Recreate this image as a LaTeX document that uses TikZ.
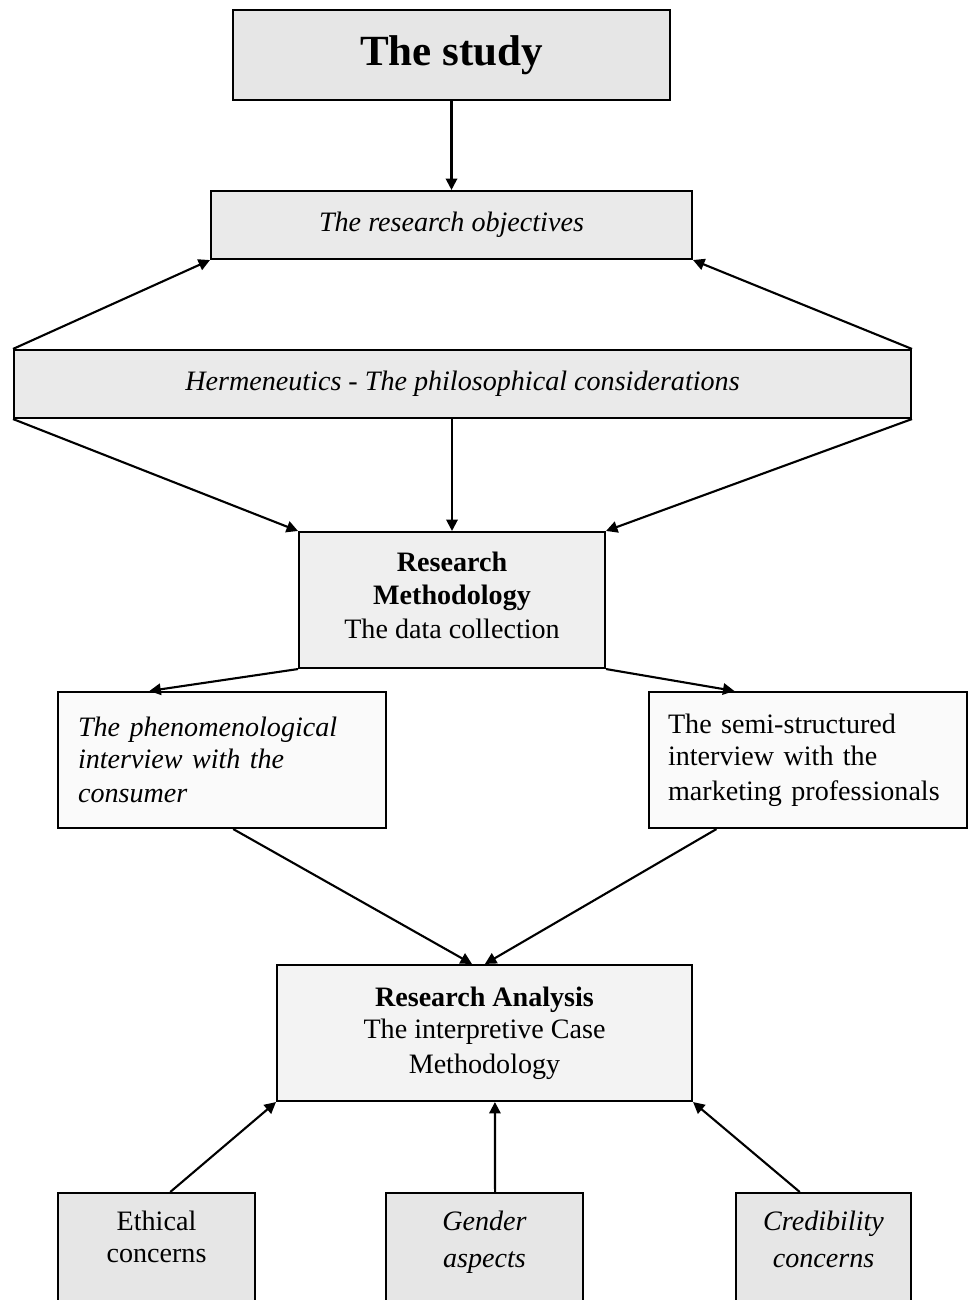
\documentclass[tikz,border=0pt]{standalone}
\usepackage{fontspec}
\setmainfont{Liberation Serif}
\usetikzlibrary{arrows.meta,calc}
\begin{document}
\begin{tikzpicture}[x=0.02cm,y=-0.02cm,
  box/.style={draw,line width=1.2pt,rectangle,inner sep=0pt,align=center,
    font=\fontsize{16}{19.5}\selectfont},
  conn/.style={line width=1.2pt,-{Triangle[length=6.5pt,width=6.5pt]}}]
\clip (0,0) rectangle (968,1300);
\fill[white] (0,0) rectangle (968,1300);
\definecolor{gA}{HTML}{E6E6E6}
\definecolor{gB}{HTML}{EAEAEA}
\definecolor{gC}{HTML}{EFEFEF}
\definecolor{gD}{HTML}{FAFAFA}
\definecolor{gE}{HTML}{F3F3F3}
\node[box,fill=gA,minimum width=8.74cm,minimum height=1.8cm,font=\fontsize{24.5}{28}\selectfont\bfseries] (study) at (451.5,55) {The study};
\node[box,fill=gB,minimum width=9.62cm,minimum height=1.36cm,font=\fontsize{16}{19.5}\selectfont\itshape] (obj) at (451.5,225) {The research objectives};
\node[box,fill=gB,minimum width=17.94cm,minimum height=1.36cm,font=\fontsize{16}{19.5}\selectfont\itshape] (herm) at (462.5,384) {Hermeneutics - The philosophical considerations};
\node[box,fill=gC,minimum width=6.12cm,minimum height=2.72cm] (meth) at (452,600) {\textbf{Research}\\[-1pt]\textbf{Methodology}\\The data collection\\[-14pt]\mbox{}};
\node[box,fill=gD,minimum width=6.56cm,minimum height=2.72cm,text width=5.76cm,inner xsep=0.4cm,align=left,font=\fontsize{16}{19.5}\selectfont\itshape] (phen) at (222,760) {The phenomenological\\[-1pt]interview with the\\consumer};
\node[box,fill=gD,minimum width=6.36cm,minimum height=2.72cm,text width=5.6cm,inner xsep=0.38cm,align=left] (semi) at (808,760) {The semi-structured\\[-1pt]interview with the\\marketing professionals};
\node[box,fill=gE,minimum width=8.3cm,minimum height=2.72cm] (ana) at (484.5,1033) {\textbf{Research Analysis}\\[-1pt]The interpretive Case\\Methodology};
\node[box,fill=gA,anchor=north,minimum width=3.94cm,inner ysep=10pt] (eth) at (156.5,1192) {Ethical\\[-1pt]concerns\\[40pt]\mbox{}};
\node[box,fill=gA,anchor=north,minimum width=3.94cm,inner ysep=10pt,font=\fontsize{16}{21}\selectfont\itshape] (gen) at (484.5,1192) {Gender\\aspects\\[40pt]\mbox{}};
\node[box,fill=gA,anchor=north,minimum width=3.5cm,inner ysep=10pt,font=\fontsize{16}{21}\selectfont\itshape] (cred) at (823.5,1192) {Credibility\\concerns\\[40pt]\mbox{}};
\draw[conn] (study.south) -- (obj.north);
\draw[conn] (herm.north west) -- (obj.south west);
\draw[conn] (herm.north east) -- (obj.south east);
\draw[conn] (herm.south west) -- (meth.north west);
\draw[conn] (herm.south -| meth.north) -- (meth.north);
\draw[conn] (herm.south east) -- (meth.north east);
\draw[conn] (meth.south west) -- ($(phen.north west)!0.28!(phen.north east)$);
\draw[conn] (meth.south east) -- ($(semi.north west)!0.27!(semi.north east)$);
\draw[conn] ($(phen.south west)!0.534!(phen.south east)$) -- ($(ana.north west)!0.47!(ana.north east)$);
\draw[conn] ($(semi.south west)!0.214!(semi.south east)$) -- ($(ana.north west)!0.501!(ana.north east)$);
\draw[conn] ($(eth.north west)!0.569!(eth.north east)$) -- (ana.south west);
\draw[conn] ($(gen.north west)!0.553!(gen.north east)$) -- ($(ana.south west)!0.525!(ana.south east)$);
\draw[conn] ($(cred.north west)!0.366!(cred.north east)$) -- (ana.south east);
\end{tikzpicture}
\end{document}
